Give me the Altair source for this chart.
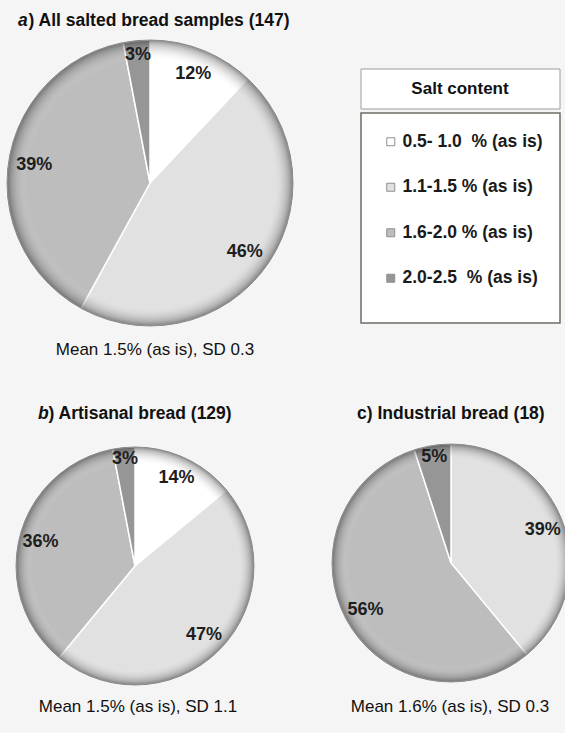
import altair as alt
import pandas as pd

# ---- data ----
categories = ["0.5- 1.0\u00a0 % (as is)", "1.1-1.5 % (as is)", "1.6-2.0 % (as is)", "2.0-2.5\u00a0 % (as is)"]
pct_all = [12, 46, 39, 3]
pct_artisanal = [14, 47, 36, 3]
pct_industrial = [0, 39, 56, 5]
groups = ["all", "artisanal", "industrial"]
title_prefix = ["a", "b", "c"]
title_rest = [") All salted bread samples (147)", ") Artisanal bread (129)", ") Industrial bread (18)"]
mean_texts = ["Mean 1.5% (as is), SD 0.3", "Mean 1.5% (as is), SD 1.1", "Mean 1.6% (as is), SD 0.3"]
legend_title = "Salt content"

colors = ["#ffffff", "#e1e1e1", "#bdbdbd", "#969696"]

rows = []
for g, vals in zip(groups, [pct_all, pct_artisanal, pct_industrial]):
    for i, (c, v) in enumerate(zip(categories, vals)):
        rows.append({"group": g, "cat": c, "idx": i, "pct": v})
df = pd.DataFrame(rows)

FONT = "Liberation Sans, Arial, sans-serif"
W, H = 565, 733

color_enc = alt.Color(
    "cat:N",
    scale=alt.Scale(domain=categories, range=colors),
    legend=alt.Legend(
        orient="none", legendX=382, legendY=133, title=None, padding=0,
        labelFont=FONT, labelFontSize=17.5, labelFontWeight="bold", labelColor="#1a1a1a",
        symbolType="square", symbolSize=64, symbolStrokeColor="#8f8f8f", symbolStrokeWidth=1,
        rowPadding=26.5, labelOffset=3, labelLimit=300,
    ),
)


def one_row(**kw):
    return alt.Chart(pd.DataFrame([kw]))


def pie(group, cx, cy, R):
    src = alt.Chart(df).transform_filter(alt.datum.group == group)
    arcs = src.mark_arc(radius=R, stroke="#ffffff", strokeWidth=1.5).encode(
        x=alt.value(cx), y=alt.value(cy),
        theta=alt.Theta("pct:Q", stack=True),
        color=color_enc,
        order=alt.Order("idx:Q"),
    )
    rim = one_row(k=1).mark_arc(
        radius=R, theta=0, theta2=6.2832,
        fill=alt.Gradient(
            gradient="radial",
            stops=[alt.GradientStop(color="rgba(255,255,255,0)", offset=0.0),
                   alt.GradientStop(color="rgba(255,255,255,0)", offset=0.86),
                   alt.GradientStop(color="rgba(80,80,80,0.35)", offset=0.97),
                   alt.GradientStop(color="rgba(60,60,60,0.6)", offset=1.0)],
            x1=0.5, y1=0.5, r1=0, x2=0.5, y2=0.5, r2=0.5,
        ),
        stroke="#8a8a8a", strokeWidth=1,
    ).encode(x=alt.value(cx), y=alt.value(cy))
    labels = src.transform_window(
        cum="sum(pct)", sort=[alt.SortField("idx")], frame=[None, 0]
    ).transform_calculate(
        label="datum.pct > 0 ? datum.pct + '%' : ''",
        mid="(datum.cum - datum.pct / 2) / 100 * 2 * PI",
        lr=f"datum.pct < 6 ? {R * 0.9} : {R * 0.82}",
    ).mark_text(font=FONT, fontSize=18, fontWeight="bold", color="#1e1e1e").encode(
        x=alt.value(cx), y=alt.value(cy),
        theta=alt.Theta("mid:Q", scale=None),
        radius=alt.Radius("lr:Q", scale=None),
        text="label:N",
    )
    return [arcs, rim, labels]


def text_layer(t, x, y, size, weight="normal", style="normal", align="left"):
    return one_row(t=t).mark_text(
        font=FONT, fontSize=size, fontWeight=weight, fontStyle=style,
        align=align, baseline="middle", color="#111111",
    ).encode(x=alt.value(x), y=alt.value(y), text="t:N")


def box(x1, x2, y1, y2, stroke, sw):
    return one_row(k=1).mark_rect(fill="#ffffff", stroke=stroke, strokeWidth=sw).encode(
        x=alt.value(x1), x2=alt.value(x2), y=alt.value(y1), y2=alt.value(y2)
    )


layers = []
# legend boxes
layers.append(box(361, 560, 69, 109, "#a09d94", 1))
layers.append(box(361, 560, 113, 323, "#6f6c62", 1.5))
layers.append(text_layer(legend_title, 460, 89, 17, weight="bold", align="center"))

# pies
layers += pie("all", 150, 183, 143)
layers += pie("artisanal", 135, 566, 119)
layers += pie("industrial", 451, 563, 119)

# titles
layers.append(text_layer(title_prefix[0], 18, 21, 17.5, weight="bold", style="italic"))
layers.append(text_layer(title_rest[0], 28.5, 21, 17.5, weight="bold"))
layers.append(text_layer(title_prefix[1], 38, 414, 17.5, weight="bold", style="italic"))
layers.append(text_layer(title_rest[1], 48.5, 414, 17.5, weight="bold"))
layers.append(text_layer(title_prefix[2] + title_rest[2], 357, 414, 17.5, weight="bold"))

# mean texts
layers.append(text_layer(mean_texts[0], 155, 350, 17, align="center"))
layers.append(text_layer(mean_texts[1], 138, 707, 17, align="center"))
layers.append(text_layer(mean_texts[2], 450, 707, 17, align="center"))

chart = alt.layer(*layers).properties(
    width=W, height=H, autosize=alt.AutoSizeParams(type="none"), padding=0,
    background="#f5f5f5",
).configure_view(strokeWidth=0)

chart.save("out.html", embed_options={"renderer": "svg", "actions": False})
